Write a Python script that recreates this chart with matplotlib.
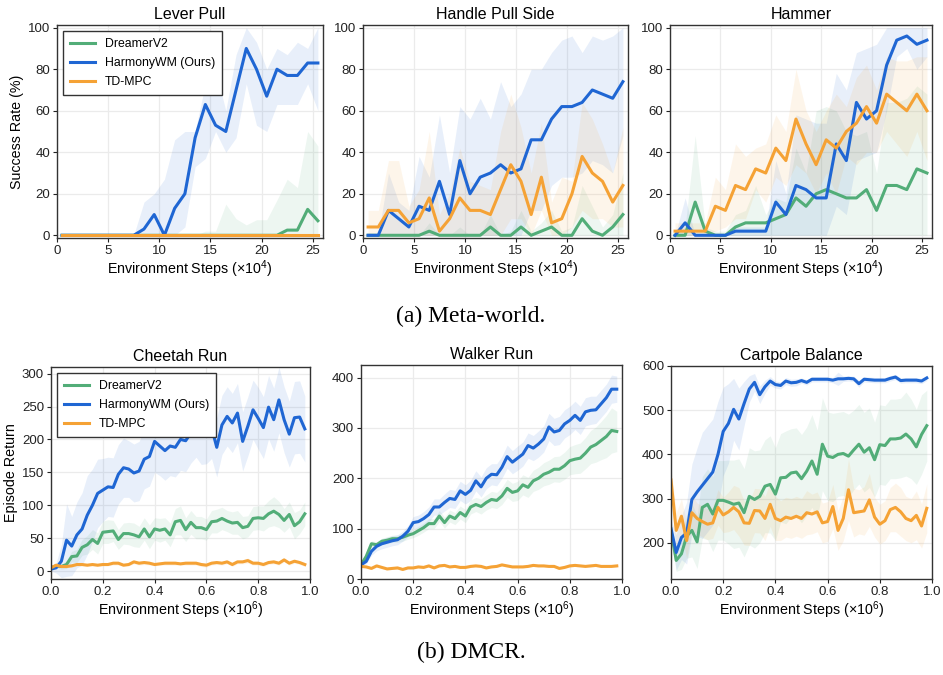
import numpy as np
import matplotlib
matplotlib.use('Agg')
import matplotlib.pyplot as plt

plt.rcParams['font.family'] = ['Liberation Sans', 'DejaVu Sans']
plt.rcParams['mathtext.fontset'] = 'custom'
plt.rcParams['mathtext.rm'] = 'Liberation Sans'
plt.rcParams['mathtext.it'] = 'Liberation Sans:italic'

methods = ['DreamerV2', 'HarmonyWM (Ours)', 'TD-MPC']
colors = {'DreamerV2': '#52ad78', 'HarmonyWM (Ours)': '#1f66d3', 'TD-MPC': '#f5a235'}

# ---------------- Meta-world (success rate, %) ----------------
mw_steps = np.arange(0.5, 26, 1.0)  # x 1e4 env steps

lever_mean = {
    'DreamerV2':        [0]*22 + [2.5, 2.5, 12.5, 7],
    'HarmonyWM (Ours)': [0, 0, 0, 0, 0, 0, 0, 0, 3, 10, 0, 13, 20, 47, 63, 53, 50, 70, 90, 80, 67, 80, 77, 77, 83, 83],
    'TD-MPC':           [0]*26,
}
lever_lo = {
    'DreamerV2':        [0]*26,
    'HarmonyWM (Ours)': [0, 0, 0, 0, 0, 0, 0, 0, 0, 0, 0, 0, 4, 33, 37, 50, 40, 47, 73, 53, 50, 63, 63, 63, 73, 60],
    'TD-MPC':           [0]*26,
}
lever_hi = {
    'DreamerV2':        [0]*14 + [2, 2, 15, 8, 5, 7.5, 7.5, 17, 27, 23, 50, 43],
    'HarmonyWM (Ours)': [0, 0, 0, 0, 0, 0, 0, 0, 16, 20, 27, 46, 50, 50, 73, 80, 60, 87, 100, 93, 80, 90, 87, 93, 90, 100],
    'TD-MPC':           [0]*26,
}

handle_mean = {
    'DreamerV2':        [0, 0, 0, 0, 0, 0, 2, 0, 0, 0, 0, 0, 4, 0, 0, 4, 0, 2, 4, 0, 0, 8, 2, 0, 4, 10],
    'HarmonyWM (Ours)': [0, 0, 12, 8, 4, 14, 12, 26, 10, 36, 20, 28, 30, 34, 30, 32, 46, 46, 56, 62, 62, 64, 70, 68, 66, 74],
    'TD-MPC':           [4, 4, 12, 12, 6, 8, 18, 2, 8, 18, 12, 12, 10, 22, 34, 26, 10, 28, 6, 8, 20, 38, 30, 26, 16, 24],
}
handle_lo = {
    'DreamerV2':        [0]*26,
    'HarmonyWM (Ours)': [0]*16 + [12, 12, 24, 28, 28, 30, 36, 34, 30, 48],
    'TD-MPC':           [0]*14 + [8, 8, 0, 12, 0, 0, 4, 12, 8, 8, 4, 4],
}
handle_hi = {
    'DreamerV2':        [0, 0, 0, 0, 0, 0, 6, 0, 0, 4, 0, 0, 10, 0, 2, 12, 2, 6, 12, 2, 4, 24, 14, 4, 10, 30],
    'HarmonyWM (Ours)': [0, 0, 30, 16, 12, 38, 28, 58, 30, 62, 56, 66, 56, 74, 62, 68, 80, 80, 88, 94, 96, 88, 96, 94, 96, 100],
    'TD-MPC':           [12, 12, 36, 36, 14, 22, 50, 10, 20, 42, 26, 24, 22, 50, 68, 52, 30, 54, 16, 28, 26, 64, 56, 44, 30, 52],
}

hammer_mean = {
    'DreamerV2':        [0, 0, 16, 2, 0, 0, 4, 6, 6, 6, 8, 10, 18, 14, 20, 22, 20, 18, 18, 22, 12, 24, 24, 22, 32, 30],
    'HarmonyWM (Ours)': [0, 6, 0, 0, 0, 0, 2, 2, 2, 2, 16, 10, 24, 22, 18, 18, 44, 36, 64, 56, 60, 82, 94, 96, 92, 94],
    'TD-MPC':           [2, 2, 2, 2, 14, 12, 24, 22, 32, 30, 42, 36, 56, 44, 34, 46, 42, 50, 54, 62, 54, 68, 64, 60, 68, 60],
}
hammer_lo = {
    'DreamerV2':        [0]*26,
    'HarmonyWM (Ours)': [0]*16 + [14, 10, 36, 38, 40, 60, 86, 90, 80, 86],
    'TD-MPC':           [0, 0, 0, 0, 2, 4, 8, 8, 22, 16, 28, 24, 34, 30, 20, 30, 20, 38, 34, 40, 40, 50, 44, 38, 50, 36],
}
hammer_hi = {
    'DreamerV2':        [0, 4, 48, 4, 2, 2, 10, 12, 24, 10, 18, 16, 42, 30, 60, 62, 60, 50, 48, 50, 30, 64, 64, 66, 72, 68],
    'HarmonyWM (Ours)': [0, 18, 0, 0, 0, 0, 4, 4, 4, 4, 36, 20, 58, 56, 54, 54, 78, 70, 88, 90, 92, 100, 100, 100, 100, 100],
    'TD-MPC':           [6, 6, 6, 6, 28, 22, 44, 38, 42, 44, 58, 50, 80, 60, 50, 60, 68, 62, 76, 82, 70, 86, 84, 84, 86, 86],
}

# ---------------- DMCR (episode return) ----------------
dmc_steps = np.arange(50) * 0.02  # x 1e6 env steps

cheetah_mean = {
    'DreamerV2': [5, 8, 7, 10, 22, 23, 36, 40, 48, 42, 59, 60, 61, 48, 57, 57, 55, 52, 64, 52,
                  64, 62, 64, 55, 75, 77, 63, 74, 66, 66, 63, 75, 76, 80, 76, 73, 74, 66, 68, 80,
                  81, 80, 87, 91, 86, 77, 86, 69, 75, 87],
    'HarmonyWM (Ours)': [3, 5, 15, 47, 38, 55, 64, 85, 100, 118, 123, 128, 127, 147, 157, 155, 149, 152, 170, 174,
                         197, 190, 183, 190, 188, 200, 198, 210, 218, 207, 208, 218, 188, 222, 235, 225, 240, 197, 220, 245,
                         232, 218, 249, 230, 260, 230, 208, 233, 234, 216],
    'TD-MPC': [5, 9, 7, 7, 8, 10, 10, 9, 10, 9, 10, 10, 12, 12, 9, 10, 14, 12, 13, 12,
               10, 11, 12, 12, 12, 11, 12, 12, 12, 10, 9, 12, 13, 12, 14, 10, 14, 14, 16, 12,
               12, 10, 13, 14, 12, 17, 12, 15, 13, 10],
}
cheetah_std = {
    'DreamerV2': [2, 3, 4, 6, 8, 10, 12, 14, 15, 16, 17, 18, 16, 15, 16, 17, 18, 16, 17, 18,
                  17, 18, 17, 18, 20, 22, 18, 18, 17, 17, 16, 17, 18, 17, 16, 17, 18, 17, 16, 18,
                  18, 19, 20, 22, 20, 18, 19, 20, 18, 18],
    'HarmonyWM (Ours)': [3, 8, 25, 55, 45, 50, 55, 60, 55, 52, 48, 45, 45, 45, 45, 43, 44, 45, 45, 45,
                         47, 45, 45, 45, 45, 47, 47, 46, 45, 45, 45, 47, 45, 45, 45, 45, 45, 45, 45, 45,
                         47, 47, 48, 48, 50, 50, 50, 55, 55, 50],
    'TD-MPC': [2, 2, 2, 2, 2, 2, 2, 2, 2, 2, 2, 2, 3, 3, 2, 2, 3, 3, 3, 3,
               2, 2, 3, 3, 3, 2, 3, 3, 3, 3, 3, 3, 3, 3, 3, 3, 3, 3, 4, 3,
               3, 3, 3, 3, 3, 3, 3, 3, 3, 3],
}

walker_mean = {
    'DreamerV2': [28, 45, 70, 68, 75, 77, 80, 80, 83, 87, 90, 96, 102, 110, 110, 125, 112, 125, 120, 132,
                  125, 143, 148, 144, 152, 158, 156, 165, 180, 172, 175, 187, 182, 195, 200, 208, 212, 218, 218, 225,
                  235, 238, 240, 250, 262, 267, 275, 283, 295, 293],
    'HarmonyWM (Ours)': [28, 35, 55, 65, 70, 73, 76, 78, 85, 95, 112, 114, 120, 128, 143, 143, 152, 160, 158, 175,
                         168, 176, 195, 183, 200, 208, 207, 222, 243, 232, 240, 248, 265, 260, 268, 278, 302, 292, 295, 308,
                         315, 325, 315, 332, 335, 336, 348, 360, 377, 377],
    'TD-MPC': [25, 24, 21, 26, 23, 20, 21, 22, 19, 22, 22, 24, 23, 26, 22, 26, 27, 24, 25, 23,
               23, 25, 26, 25, 22, 24, 25, 28, 26, 24, 24, 24, 25, 27, 26, 26, 25, 25, 21, 23,
               26, 27, 26, 25, 26, 27, 25, 25, 25, 26],
}
walker_std = {
    'DreamerV2': [3, 5, 6, 6, 6, 7, 7, 7, 8, 8, 8, 9, 9, 10, 10, 11, 11, 12, 12, 13,
                  13, 14, 14, 15, 15, 16, 16, 17, 18, 18, 19, 20, 20, 21, 22, 23, 24, 25, 26, 27,
                  28, 29, 30, 31, 33, 35, 38, 42, 45, 40],
    'HarmonyWM (Ours)': [3, 5, 8, 9, 10, 10, 10, 10, 10, 11, 12, 13, 14, 15, 16, 16, 17, 18, 18, 19,
                         19, 20, 20, 20, 21, 21, 22, 22, 23, 23, 24, 24, 25, 25, 26, 26, 27, 27, 28, 28,
                         28, 28, 28, 28, 28, 27, 27, 27, 28, 26],
    'TD-MPC': [2, 2, 2, 2, 2, 2, 2, 2, 2, 2, 2, 2, 2, 2, 2, 2, 2, 2, 2, 2,
               2, 2, 2, 2, 2, 2, 2, 2, 2, 2, 2, 2, 2, 2, 2, 2, 2, 2, 2, 2,
               2, 2, 2, 2, 2, 2, 2, 2, 2, 2],
}

cartpole_mean = {
    'DreamerV2': [228, 160, 175, 215, 228, 202, 280, 287, 265, 296, 296, 292, 287, 290, 268, 305, 298, 305, 328, 332,
                  310, 347, 348, 358, 360, 345, 362, 385, 355, 423, 396, 393, 400, 402, 396, 410, 423, 405, 415, 388,
                  422, 420, 435, 435, 437, 446, 435, 417, 445, 465],
    'HarmonyWM (Ours)': [232, 178, 212, 222, 298, 315, 330, 345, 360, 400, 452, 470, 502, 480, 515, 548, 563, 535, 553, 566,
                         558, 556, 566, 562, 563, 567, 563, 570, 570, 570, 570, 568, 571, 571, 572, 571, 560, 570, 569, 568,
                         568, 568, 572, 575, 567, 568, 568, 568, 566, 573],
    'TD-MPC': [342, 228, 260, 205, 268, 255, 248, 242, 245, 280, 263, 270, 280, 270, 245, 244, 273, 272, 255, 287,
               255, 250, 258, 255, 260, 255, 268, 265, 270, 245, 248, 282, 228, 255, 320, 268, 270, 272, 297, 258,
               242, 250, 275, 280, 270, 255, 250, 262, 238, 278],
}
cartpole_std = {
    'DreamerV2': [20, 25, 35, 50, 60, 60, 70, 80, 85, 90, 90, 95, 100, 100, 100, 110, 110, 105, 105, 110,
                  105, 100, 105, 100, 100, 100, 100, 105, 100, 105, 100, 100, 95, 95, 95, 90, 90, 90, 90, 85,
                  90, 90, 90, 90, 90, 95, 90, 85, 90, 80],
    'HarmonyWM (Ours)': [20, 40, 50, 70, 80, 100, 120, 120, 120, 120, 100, 90, 70, 70, 50, 30, 20, 20, 15, 10,
                         8, 8, 8, 8, 8, 6, 6, 6, 6, 6, 6, 6, 15, 6, 6, 6, 8, 6, 6, 6,
                         6, 6, 6, 6, 6, 6, 6, 6, 6, 6],
    'TD-MPC': [30, 40, 40, 40, 40, 35, 35, 35, 35, 40, 40, 45, 50, 55, 50, 50, 50, 50, 50, 50,
               50, 45, 45, 45, 45, 45, 50, 45, 45, 45, 45, 50, 45, 50, 70, 55, 50, 55, 60, 45,
               45, 45, 50, 55, 55, 50, 50, 55, 50, 55],
}

mw_tasks = [('Lever Pull', lever_mean, lever_lo, lever_hi),
            ('Handle Pull Side', handle_mean, handle_lo, handle_hi),
            ('Hammer', hammer_mean, hammer_lo, hammer_hi)]
dmc_tasks = [('Cheetah Run', cheetah_mean, cheetah_std, (-12, 310), [0, 50, 100, 150, 200, 250, 300]),
             ('Walker Run', walker_mean, walker_std, (0, 425), [0, 100, 200, 300, 400]),
             ('Cartpole Balance', cartpole_mean, cartpole_std, (118, 600), [200, 300, 400, 500, 600])]

W, H = 943, 675
fig = plt.figure(figsize=(W / 100, H / 100), dpi=100)


def add_ax(left, top, right, bottom):
    return fig.add_axes([left / W, 1 - bottom / H, (right - left) / W, (bottom - top) / H])


def style(ax):
    ax.grid(True, color='#ebebeb', linewidth=0.9)
    ax.set_axisbelow(True)
    for s in ax.spines.values():
        s.set_color('#333333')
        s.set_linewidth(1.0)
    ax.tick_params(labelsize=9.5, length=3, width=0.8, pad=2, colors='#222222')


def add_legend(ax):
    leg = ax.legend(loc='upper left', fontsize=8.8, fancybox=False, framealpha=1,
                    edgecolor='#333333', handlelength=2.0, borderpad=0.6,
                    labelspacing=0.55, handletextpad=0.8)
    leg.get_frame().set_linewidth(1.0)


top_boxes = [(57, 25, 323, 238), (363, 25, 628, 238), (670, 25, 932, 238)]
bot_boxes = [(51, 367, 310, 579), (361, 365, 622, 579), (671, 366, 932, 579)]

for i, (title, mean, lo, hi) in enumerate(mw_tasks):
    ax = add_ax(*top_boxes[i])
    style(ax)
    for m in methods:
        ax.fill_between(mw_steps, lo[m], hi[m], color=colors[m], alpha=0.1, linewidth=0)
    for m in methods:
        ax.plot(mw_steps, mean[m], color=colors[m], linewidth=2.2, label=m)
    ax.set_xlim(0, 26)
    ax.set_ylim(-1.3, 101.3)
    ax.set_xticks([0, 5, 10, 15, 20, 25])
    ax.set_yticks([0, 20, 40, 60, 80, 100])
    ax.set_title(title, fontsize=11.5, pad=4)
    ax.set_xlabel(r'Environment Steps ($\times 10^4$)', fontsize=10.3, labelpad=1)
    if i == 0:
        ax.set_ylabel('Success Rate (%)', fontsize=10.3, labelpad=3)
        add_legend(ax)

for i, (title, mean, std, ylim, yt) in enumerate(dmc_tasks):
    ax = add_ax(*bot_boxes[i])
    style(ax)
    for m in methods:
        mu = np.array(mean[m], dtype=float)
        sd = np.array(std[m], dtype=float)
        ax.fill_between(dmc_steps, mu - sd, mu + sd, color=colors[m], alpha=0.1, linewidth=0)
    for m in methods:
        ax.plot(dmc_steps, mean[m], color=colors[m], linewidth=2.2, label=m)
    ax.set_xlim(0, 1)
    ax.set_ylim(*ylim)
    ax.set_yticks(yt)
    ax.set_xticks([0.0, 0.2, 0.4, 0.6, 0.8, 1.0])
    ax.set_title(title, fontsize=11.5, pad=4)
    ax.set_xlabel(r'Environment Steps ($\times 10^6$)', fontsize=10.3, labelpad=1)
    if i == 0:
        ax.set_ylabel('Episode Return', fontsize=10.3, labelpad=3)
        add_legend(ax)

fig.text(471 / W, 1 - 316 / H, '(a) Meta-world.', ha='center', va='center',
         family='Liberation Serif', fontsize=17)
fig.text(471 / W, 1 - 652 / H, '(b) DMCR.', ha='center', va='center',
         family='Liberation Serif', fontsize=17)

fig.savefig('out.png', dpi=100)
